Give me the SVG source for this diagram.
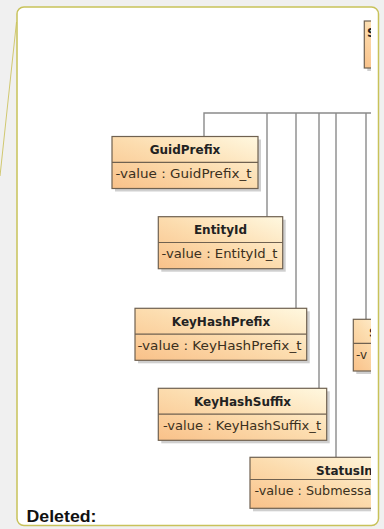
<svg xmlns="http://www.w3.org/2000/svg" width="384" height="529" viewBox="0 0 384 529">
<defs>
<linearGradient id="g" x1="0" y1="1" x2="1" y2="0">
<stop offset="0" stop-color="#f9c189"/>
<stop offset="0.5" stop-color="#fcdcae"/>
<stop offset="1" stop-color="#fff8e0"/>
</linearGradient>
<clipPath id="clip"><rect x="18" y="8" width="353" height="516"/></clipPath>
<style>
.box{fill:url(#g);stroke:#6f6150;stroke-width:1.2}
.sh{fill:#a0a0a0;opacity:0.5}
.div{stroke:#6f6150;stroke-width:1.2}
.t{font-family:"DejaVu Sans",sans-serif;font-weight:bold;font-size:12px;fill:#222}
.a{font-family:"DejaVu Sans",sans-serif;font-size:12px;fill:#3a3020}
.c{fill:none;stroke:#8a8a8a;stroke-width:1.4}
</style>
</defs>
<rect width="384" height="529" fill="#f0f0f0"/>
<line x1="16.5" y1="22" x2="0" y2="176" stroke="#d0c870" stroke-width="1"/>
<rect x="17" y="7" width="361.5" height="518.5" rx="7" fill="#ffffff" stroke="#c8c25a" stroke-width="1.5"/>
<g clip-path="url(#clip)">
<g id="connectors">
<path class="c" d="M204 136.5V113H380"/>
<path class="c" d="M267 113V216.7"/>
<path class="c" d="M296 113V308.3"/>
<path class="c" d="M319 113V388.3"/>
<path class="c" d="M336 113V457.3"/>
<path class="c" d="M366 113V319.3"/>
</g>
<g id="SubmessageElement">
<rect class="sh" x="367.3" y="24" width="40" height="47"/>
<rect class="box" x="364.3" y="21" width="40" height="47"/>
<text class="t" x="367" y="37">S</text>
</g>
<g id="GuidPrefix">
<rect class="sh" x="115" y="139.5" width="146" height="52"/>
<rect class="box" x="112" y="136.5" width="146" height="52"/>
<line class="div" x1="112" y1="162.3" x2="258" y2="162.3"/>
<text class="t" x="185" y="154" text-anchor="middle">GuidPrefix</text>
<text class="a" x="115.5" y="178" textLength="136" lengthAdjust="spacingAndGlyphs">-value : GuidPrefix_t</text>
</g>
<g id="EntityId">
<rect class="sh" x="161.3" y="219.7" width="124.4" height="52"/>
<rect class="box" x="158.3" y="216.7" width="124.4" height="52"/>
<line class="div" x1="158.3" y1="242.5" x2="282.7" y2="242.5"/>
<text class="t" x="220.5" y="234.2" text-anchor="middle">EntityId</text>
<text class="a" x="161.5" y="258.4" textLength="116" lengthAdjust="spacingAndGlyphs">-value : EntityId_t</text>
</g>
<g id="KeyHashPrefix">
<rect class="sh" x="138" y="311.3" width="171.7" height="52"/>
<rect class="box" x="135" y="308.3" width="171.7" height="52"/>
<line class="div" x1="135" y1="334.1" x2="306.7" y2="334.1"/>
<text class="t" x="221" y="325.8" text-anchor="middle">KeyHashPrefix</text>
<text class="a" x="137.5" y="350" textLength="164" lengthAdjust="spacingAndGlyphs">-value : KeyHashPrefix_t</text>
</g>
<g id="KeyHashSuffix">
<rect class="sh" x="161.3" y="391.3" width="168.4" height="52"/>
<rect class="box" x="158.3" y="388.3" width="168.4" height="52"/>
<line class="div" x1="158.3" y1="414.1" x2="326.7" y2="414.1"/>
<text class="t" x="242.5" y="405.8" text-anchor="middle">KeyHashSuffix</text>
<text class="a" x="163" y="430" textLength="158" lengthAdjust="spacingAndGlyphs">-value : KeyHashSuffix_t</text>
</g>
<g id="SubmessageBox">
<rect class="sh" x="356.3" y="322.3" width="40" height="51.7"/>
<rect class="box" x="353.3" y="319.3" width="40" height="51.7"/>
<line class="div" x1="353.3" y1="343.3" x2="393.3" y2="343.3"/>
<text class="t" x="369" y="336.5">S</text>
<text class="a" x="356" y="359">-v</text>
</g>
<g id="StatusInfo">
<rect class="sh" x="253" y="460.3" width="140" height="51"/>
<rect class="box" x="250" y="457.3" width="140" height="51"/>
<line class="div" x1="250" y1="479.5" x2="390" y2="479.5"/>
<text class="t" x="316" y="475">StatusIn</text>
<text class="a" x="254.5" y="495" textLength="117" lengthAdjust="spacingAndGlyphs">-value : Submessa</text>
</g>
</g>
<text x="26.5" y="521.5" font-family="Liberation Sans, Arial, sans-serif" font-weight="bold" font-size="16.5" fill="#111" textLength="70" lengthAdjust="spacingAndGlyphs">Deleted:</text>
</svg>
